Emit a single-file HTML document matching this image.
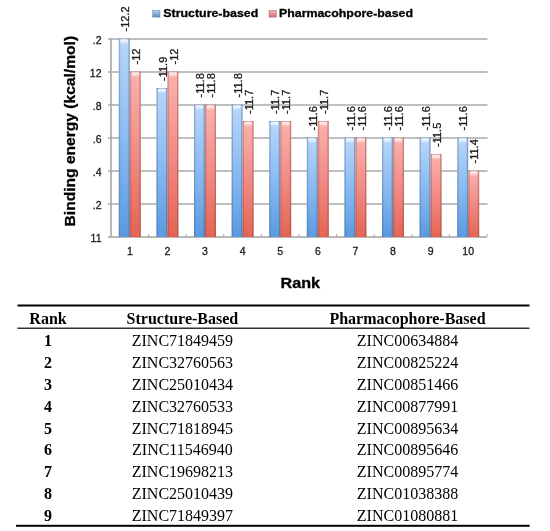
<!DOCTYPE html>
<html><head><meta charset="utf-8">
<style>
html,body{margin:0;padding:0;background:#fff;}
body{width:550px;height:531px;overflow:hidden;position:relative;}
svg{position:absolute;left:0;top:0;filter:blur(0.3px);}
</style></head><body>
<svg width="550" height="531" viewBox="0 0 550 531">
<defs>
<linearGradient id="gb" x1="0" y1="0" x2="0" y2="1">
<stop offset="0" stop-color="#b8d7fb"/><stop offset="0.5" stop-color="#8abbf1"/><stop offset="1" stop-color="#5a9ae0"/>
</linearGradient>
<linearGradient id="gr" x1="0" y1="0" x2="0" y2="1">
<stop offset="0" stop-color="#fcb2ad"/><stop offset="0.5" stop-color="#f28b85"/><stop offset="1" stop-color="#e46452"/>
</linearGradient>
<linearGradient id="hl" x1="0" y1="0" x2="0" y2="1">
<stop offset="0" stop-color="#fff" stop-opacity="0.8"/><stop offset="0.55" stop-color="#fff" stop-opacity="0.55"/><stop offset="1" stop-color="#fff" stop-opacity="0"/>
</linearGradient>
<linearGradient id="lb" x1="0" y1="0" x2="0" y2="1"><stop offset="0" stop-color="#b4d4f4"/><stop offset="1" stop-color="#5f88bd"/></linearGradient>
<linearGradient id="lr" x1="0" y1="0" x2="0" y2="1"><stop offset="0" stop-color="#f8bcbc"/><stop offset="1" stop-color="#cf6e74"/></linearGradient>
</defs>
<g font-family="Liberation Sans, sans-serif">

<rect x="108" y="38.20" width="379.5" height="1.6" fill="#b0b0b0"/>
<rect x="108" y="71.20" width="379.5" height="1.6" fill="#b0b0b0"/>
<rect x="108" y="104.20" width="379.5" height="1.6" fill="#b0b0b0"/>
<rect x="108" y="137.20" width="379.5" height="1.6" fill="#b0b0b0"/>
<rect x="108" y="170.20" width="379.5" height="1.6" fill="#b0b0b0"/>
<rect x="108" y="203.20" width="379.5" height="1.6" fill="#b0b0b0"/>
<rect x="108" y="236.20" width="379" height="1.6" fill="#a8a8a8"/>
<rect x="110.2" y="38.20" width="1.6" height="199.60" fill="#a8a8a8"/>
<rect x="148.10" y="234.00" width="1" height="3" fill="#a8a8a8"/>
<rect x="185.70" y="234.00" width="1" height="3" fill="#a8a8a8"/>
<rect x="223.30" y="234.00" width="1" height="3" fill="#a8a8a8"/>
<rect x="260.90" y="234.00" width="1" height="3" fill="#a8a8a8"/>
<rect x="298.50" y="234.00" width="1" height="3" fill="#a8a8a8"/>
<rect x="336.10" y="234.00" width="1" height="3" fill="#a8a8a8"/>
<rect x="373.70" y="234.00" width="1" height="3" fill="#a8a8a8"/>
<rect x="411.30" y="234.00" width="1" height="3" fill="#a8a8a8"/>
<rect x="448.90" y="234.00" width="1" height="3" fill="#a8a8a8"/>
<rect x="486.50" y="234.00" width="1" height="3" fill="#a8a8a8"/>
<rect x="118.80" y="38.50" width="11.0" height="198.50" fill="url(#gb)"/>
<rect x="118.80" y="38.50" width="1.4" height="198.50" fill="#46526a" fill-opacity="0.3"/>
<rect x="128.40" y="38.50" width="1.4" height="198.50" fill="#46526a" fill-opacity="0.38"/>
<rect x="120.40" y="39.10" width="7.80" height="5" rx="1.5" fill="url(#hl)"/>
<rect x="118.80" y="38.50" width="11.0" height="1" fill="#46526a" fill-opacity="0.25"/>
<text transform="translate(129.00,31.50) rotate(-90)" font-size="11" fill="#1a1a1a" stroke="#1a1a1a" stroke-width="0.3">-12.2</text>
<rect x="129.80" y="71.50" width="11.0" height="165.50" fill="url(#gr)"/>
<rect x="129.80" y="71.50" width="1.4" height="165.50" fill="#704646" fill-opacity="0.3"/>
<rect x="139.40" y="71.50" width="1.4" height="165.50" fill="#704646" fill-opacity="0.38"/>
<rect x="131.40" y="72.10" width="7.80" height="5" rx="1.5" fill="url(#hl)"/>
<rect x="129.80" y="71.50" width="11.0" height="1" fill="#704646" fill-opacity="0.25"/>
<text transform="translate(140.00,64.50) rotate(-90)" font-size="11" fill="#1a1a1a" stroke="#1a1a1a" stroke-width="0.3">-12</text>
<rect x="156.40" y="88.00" width="11.0" height="149.00" fill="url(#gb)"/>
<rect x="156.40" y="88.00" width="1.4" height="149.00" fill="#46526a" fill-opacity="0.3"/>
<rect x="166.00" y="88.00" width="1.4" height="149.00" fill="#46526a" fill-opacity="0.38"/>
<rect x="158.00" y="88.60" width="7.80" height="5" rx="1.5" fill="url(#hl)"/>
<rect x="156.40" y="88.00" width="11.0" height="1" fill="#46526a" fill-opacity="0.25"/>
<text transform="translate(166.60,81.00) rotate(-90)" font-size="11" fill="#1a1a1a" stroke="#1a1a1a" stroke-width="0.3">-11.9</text>
<rect x="167.40" y="71.50" width="11.0" height="165.50" fill="url(#gr)"/>
<rect x="167.40" y="71.50" width="1.4" height="165.50" fill="#704646" fill-opacity="0.3"/>
<rect x="177.00" y="71.50" width="1.4" height="165.50" fill="#704646" fill-opacity="0.38"/>
<rect x="169.00" y="72.10" width="7.80" height="5" rx="1.5" fill="url(#hl)"/>
<rect x="167.40" y="71.50" width="11.0" height="1" fill="#704646" fill-opacity="0.25"/>
<text transform="translate(177.60,64.50) rotate(-90)" font-size="11" fill="#1a1a1a" stroke="#1a1a1a" stroke-width="0.3">-12</text>
<rect x="194.00" y="104.50" width="11.0" height="132.50" fill="url(#gb)"/>
<rect x="194.00" y="104.50" width="1.4" height="132.50" fill="#46526a" fill-opacity="0.3"/>
<rect x="203.60" y="104.50" width="1.4" height="132.50" fill="#46526a" fill-opacity="0.38"/>
<rect x="195.60" y="105.10" width="7.80" height="5" rx="1.5" fill="url(#hl)"/>
<rect x="194.00" y="104.50" width="11.0" height="1" fill="#46526a" fill-opacity="0.25"/>
<text transform="translate(204.20,97.50) rotate(-90)" font-size="11" fill="#1a1a1a" stroke="#1a1a1a" stroke-width="0.3">-11.8</text>
<rect x="205.00" y="104.50" width="11.0" height="132.50" fill="url(#gr)"/>
<rect x="205.00" y="104.50" width="1.4" height="132.50" fill="#704646" fill-opacity="0.3"/>
<rect x="214.60" y="104.50" width="1.4" height="132.50" fill="#704646" fill-opacity="0.38"/>
<rect x="206.60" y="105.10" width="7.80" height="5" rx="1.5" fill="url(#hl)"/>
<rect x="205.00" y="104.50" width="11.0" height="1" fill="#704646" fill-opacity="0.25"/>
<text transform="translate(215.20,97.50) rotate(-90)" font-size="11" fill="#1a1a1a" stroke="#1a1a1a" stroke-width="0.3">-11.8</text>
<rect x="231.60" y="104.50" width="11.0" height="132.50" fill="url(#gb)"/>
<rect x="231.60" y="104.50" width="1.4" height="132.50" fill="#46526a" fill-opacity="0.3"/>
<rect x="241.20" y="104.50" width="1.4" height="132.50" fill="#46526a" fill-opacity="0.38"/>
<rect x="233.20" y="105.10" width="7.80" height="5" rx="1.5" fill="url(#hl)"/>
<rect x="231.60" y="104.50" width="11.0" height="1" fill="#46526a" fill-opacity="0.25"/>
<text transform="translate(241.80,97.50) rotate(-90)" font-size="11" fill="#1a1a1a" stroke="#1a1a1a" stroke-width="0.3">-11.8</text>
<rect x="242.60" y="121.00" width="11.0" height="116.00" fill="url(#gr)"/>
<rect x="242.60" y="121.00" width="1.4" height="116.00" fill="#704646" fill-opacity="0.3"/>
<rect x="252.20" y="121.00" width="1.4" height="116.00" fill="#704646" fill-opacity="0.38"/>
<rect x="244.20" y="121.60" width="7.80" height="5" rx="1.5" fill="url(#hl)"/>
<rect x="242.60" y="121.00" width="11.0" height="1" fill="#704646" fill-opacity="0.25"/>
<text transform="translate(252.80,114.00) rotate(-90)" font-size="11" fill="#1a1a1a" stroke="#1a1a1a" stroke-width="0.3">-11.7</text>
<rect x="269.20" y="121.00" width="11.0" height="116.00" fill="url(#gb)"/>
<rect x="269.20" y="121.00" width="1.4" height="116.00" fill="#46526a" fill-opacity="0.3"/>
<rect x="278.80" y="121.00" width="1.4" height="116.00" fill="#46526a" fill-opacity="0.38"/>
<rect x="270.80" y="121.60" width="7.80" height="5" rx="1.5" fill="url(#hl)"/>
<rect x="269.20" y="121.00" width="11.0" height="1" fill="#46526a" fill-opacity="0.25"/>
<text transform="translate(279.40,114.00) rotate(-90)" font-size="11" fill="#1a1a1a" stroke="#1a1a1a" stroke-width="0.3">-11.7</text>
<rect x="280.20" y="121.00" width="11.0" height="116.00" fill="url(#gr)"/>
<rect x="280.20" y="121.00" width="1.4" height="116.00" fill="#704646" fill-opacity="0.3"/>
<rect x="289.80" y="121.00" width="1.4" height="116.00" fill="#704646" fill-opacity="0.38"/>
<rect x="281.80" y="121.60" width="7.80" height="5" rx="1.5" fill="url(#hl)"/>
<rect x="280.20" y="121.00" width="11.0" height="1" fill="#704646" fill-opacity="0.25"/>
<text transform="translate(290.40,114.00) rotate(-90)" font-size="11" fill="#1a1a1a" stroke="#1a1a1a" stroke-width="0.3">-11.7</text>
<rect x="306.80" y="137.50" width="11.0" height="99.50" fill="url(#gb)"/>
<rect x="306.80" y="137.50" width="1.4" height="99.50" fill="#46526a" fill-opacity="0.3"/>
<rect x="316.40" y="137.50" width="1.4" height="99.50" fill="#46526a" fill-opacity="0.38"/>
<rect x="308.40" y="138.10" width="7.80" height="5" rx="1.5" fill="url(#hl)"/>
<rect x="306.80" y="137.50" width="11.0" height="1" fill="#46526a" fill-opacity="0.25"/>
<text transform="translate(317.00,130.50) rotate(-90)" font-size="11" fill="#1a1a1a" stroke="#1a1a1a" stroke-width="0.3">-11.6</text>
<rect x="317.80" y="121.00" width="11.0" height="116.00" fill="url(#gr)"/>
<rect x="317.80" y="121.00" width="1.4" height="116.00" fill="#704646" fill-opacity="0.3"/>
<rect x="327.40" y="121.00" width="1.4" height="116.00" fill="#704646" fill-opacity="0.38"/>
<rect x="319.40" y="121.60" width="7.80" height="5" rx="1.5" fill="url(#hl)"/>
<rect x="317.80" y="121.00" width="11.0" height="1" fill="#704646" fill-opacity="0.25"/>
<text transform="translate(328.00,114.00) rotate(-90)" font-size="11" fill="#1a1a1a" stroke="#1a1a1a" stroke-width="0.3">-11.7</text>
<rect x="344.40" y="137.50" width="11.0" height="99.50" fill="url(#gb)"/>
<rect x="344.40" y="137.50" width="1.4" height="99.50" fill="#46526a" fill-opacity="0.3"/>
<rect x="354.00" y="137.50" width="1.4" height="99.50" fill="#46526a" fill-opacity="0.38"/>
<rect x="346.00" y="138.10" width="7.80" height="5" rx="1.5" fill="url(#hl)"/>
<rect x="344.40" y="137.50" width="11.0" height="1" fill="#46526a" fill-opacity="0.25"/>
<text transform="translate(354.60,130.50) rotate(-90)" font-size="11" fill="#1a1a1a" stroke="#1a1a1a" stroke-width="0.3">-11.6</text>
<rect x="355.40" y="137.50" width="11.0" height="99.50" fill="url(#gr)"/>
<rect x="355.40" y="137.50" width="1.4" height="99.50" fill="#704646" fill-opacity="0.3"/>
<rect x="365.00" y="137.50" width="1.4" height="99.50" fill="#704646" fill-opacity="0.38"/>
<rect x="357.00" y="138.10" width="7.80" height="5" rx="1.5" fill="url(#hl)"/>
<rect x="355.40" y="137.50" width="11.0" height="1" fill="#704646" fill-opacity="0.25"/>
<text transform="translate(365.60,130.50) rotate(-90)" font-size="11" fill="#1a1a1a" stroke="#1a1a1a" stroke-width="0.3">-11.6</text>
<rect x="382.00" y="137.50" width="11.0" height="99.50" fill="url(#gb)"/>
<rect x="382.00" y="137.50" width="1.4" height="99.50" fill="#46526a" fill-opacity="0.3"/>
<rect x="391.60" y="137.50" width="1.4" height="99.50" fill="#46526a" fill-opacity="0.38"/>
<rect x="383.60" y="138.10" width="7.80" height="5" rx="1.5" fill="url(#hl)"/>
<rect x="382.00" y="137.50" width="11.0" height="1" fill="#46526a" fill-opacity="0.25"/>
<text transform="translate(392.20,130.50) rotate(-90)" font-size="11" fill="#1a1a1a" stroke="#1a1a1a" stroke-width="0.3">-11.6</text>
<rect x="393.00" y="137.50" width="11.0" height="99.50" fill="url(#gr)"/>
<rect x="393.00" y="137.50" width="1.4" height="99.50" fill="#704646" fill-opacity="0.3"/>
<rect x="402.60" y="137.50" width="1.4" height="99.50" fill="#704646" fill-opacity="0.38"/>
<rect x="394.60" y="138.10" width="7.80" height="5" rx="1.5" fill="url(#hl)"/>
<rect x="393.00" y="137.50" width="11.0" height="1" fill="#704646" fill-opacity="0.25"/>
<text transform="translate(403.20,130.50) rotate(-90)" font-size="11" fill="#1a1a1a" stroke="#1a1a1a" stroke-width="0.3">-11.6</text>
<rect x="419.60" y="137.50" width="11.0" height="99.50" fill="url(#gb)"/>
<rect x="419.60" y="137.50" width="1.4" height="99.50" fill="#46526a" fill-opacity="0.3"/>
<rect x="429.20" y="137.50" width="1.4" height="99.50" fill="#46526a" fill-opacity="0.38"/>
<rect x="421.20" y="138.10" width="7.80" height="5" rx="1.5" fill="url(#hl)"/>
<rect x="419.60" y="137.50" width="11.0" height="1" fill="#46526a" fill-opacity="0.25"/>
<text transform="translate(429.80,130.50) rotate(-90)" font-size="11" fill="#1a1a1a" stroke="#1a1a1a" stroke-width="0.3">-11.6</text>
<rect x="430.60" y="154.00" width="11.0" height="83.00" fill="url(#gr)"/>
<rect x="430.60" y="154.00" width="1.4" height="83.00" fill="#704646" fill-opacity="0.3"/>
<rect x="440.20" y="154.00" width="1.4" height="83.00" fill="#704646" fill-opacity="0.38"/>
<rect x="432.20" y="154.60" width="7.80" height="5" rx="1.5" fill="url(#hl)"/>
<rect x="430.60" y="154.00" width="11.0" height="1" fill="#704646" fill-opacity="0.25"/>
<text transform="translate(440.80,147.00) rotate(-90)" font-size="11" fill="#1a1a1a" stroke="#1a1a1a" stroke-width="0.3">-11.5</text>
<rect x="457.20" y="137.50" width="11.0" height="99.50" fill="url(#gb)"/>
<rect x="457.20" y="137.50" width="1.4" height="99.50" fill="#46526a" fill-opacity="0.3"/>
<rect x="466.80" y="137.50" width="1.4" height="99.50" fill="#46526a" fill-opacity="0.38"/>
<rect x="458.80" y="138.10" width="7.80" height="5" rx="1.5" fill="url(#hl)"/>
<rect x="457.20" y="137.50" width="11.0" height="1" fill="#46526a" fill-opacity="0.25"/>
<text transform="translate(467.40,130.50) rotate(-90)" font-size="11" fill="#1a1a1a" stroke="#1a1a1a" stroke-width="0.3">-11.6</text>
<rect x="468.20" y="170.50" width="11.0" height="66.50" fill="url(#gr)"/>
<rect x="468.20" y="170.50" width="1.4" height="66.50" fill="#704646" fill-opacity="0.3"/>
<rect x="477.80" y="170.50" width="1.4" height="66.50" fill="#704646" fill-opacity="0.38"/>
<rect x="469.80" y="171.10" width="7.80" height="5" rx="1.5" fill="url(#hl)"/>
<rect x="468.20" y="170.50" width="11.0" height="1" fill="#704646" fill-opacity="0.25"/>
<text transform="translate(478.40,163.50) rotate(-90)" font-size="11" fill="#1a1a1a" stroke="#1a1a1a" stroke-width="0.3">-11.4</text>
<text x="101.5" y="43.50" font-size="10.5" text-anchor="end" fill="#1a1a1a" stroke="#1a1a1a" stroke-width="0.3">.2</text>
<text x="101.5" y="76.50" font-size="10.5" text-anchor="end" fill="#1a1a1a" stroke="#1a1a1a" stroke-width="0.3">12</text>
<text x="101.5" y="109.50" font-size="10.5" text-anchor="end" fill="#1a1a1a" stroke="#1a1a1a" stroke-width="0.3">.8</text>
<text x="101.5" y="142.50" font-size="10.5" text-anchor="end" fill="#1a1a1a" stroke="#1a1a1a" stroke-width="0.3">.6</text>
<text x="101.5" y="175.50" font-size="10.5" text-anchor="end" fill="#1a1a1a" stroke="#1a1a1a" stroke-width="0.3">.4</text>
<text x="101.5" y="208.50" font-size="10.5" text-anchor="end" fill="#1a1a1a" stroke="#1a1a1a" stroke-width="0.3">.2</text>
<text x="101.5" y="241.50" font-size="10.5" text-anchor="end" fill="#1a1a1a" stroke="#1a1a1a" stroke-width="0.3">11</text>
<text x="129.80" y="255" font-size="10.5" text-anchor="middle" fill="#1a1a1a" stroke="#1a1a1a" stroke-width="0.3">1</text>
<text x="167.40" y="255" font-size="10.5" text-anchor="middle" fill="#1a1a1a" stroke="#1a1a1a" stroke-width="0.3">2</text>
<text x="205.00" y="255" font-size="10.5" text-anchor="middle" fill="#1a1a1a" stroke="#1a1a1a" stroke-width="0.3">3</text>
<text x="242.60" y="255" font-size="10.5" text-anchor="middle" fill="#1a1a1a" stroke="#1a1a1a" stroke-width="0.3">4</text>
<text x="280.20" y="255" font-size="10.5" text-anchor="middle" fill="#1a1a1a" stroke="#1a1a1a" stroke-width="0.3">5</text>
<text x="317.80" y="255" font-size="10.5" text-anchor="middle" fill="#1a1a1a" stroke="#1a1a1a" stroke-width="0.3">6</text>
<text x="355.40" y="255" font-size="10.5" text-anchor="middle" fill="#1a1a1a" stroke="#1a1a1a" stroke-width="0.3">7</text>
<text x="393.00" y="255" font-size="10.5" text-anchor="middle" fill="#1a1a1a" stroke="#1a1a1a" stroke-width="0.3">8</text>
<text x="430.60" y="255" font-size="10.5" text-anchor="middle" fill="#1a1a1a" stroke="#1a1a1a" stroke-width="0.3">9</text>
<text x="468.20" y="255" font-size="10.5" text-anchor="middle" fill="#1a1a1a" stroke="#1a1a1a" stroke-width="0.3">10</text>
<text x="280.5" y="288" font-size="14" font-weight="bold" fill="#000" stroke="#000" stroke-width="0.3" textLength="39.5" lengthAdjust="spacingAndGlyphs">Rank</text>
<text transform="translate(74.9,226.4) rotate(-90)" font-size="14" font-weight="bold" fill="#000" stroke="#000" stroke-width="0.3" textLength="190.5" lengthAdjust="spacingAndGlyphs">Binding energy (kcal/mol)</text>
<rect x="152.7" y="10.3" width="7.3" height="6.8" fill="url(#lb)" stroke="#6680a4" stroke-width="0.5"/>
<text x="163.3" y="17.2" font-size="11" font-weight="bold" fill="#000" stroke="#000" stroke-width="0.3" textLength="95" lengthAdjust="spacingAndGlyphs">Structure-based</text>
<rect x="269" y="10.3" width="7.3" height="6.8" fill="url(#lr)" stroke="#a06870" stroke-width="0.5"/>
<text x="279" y="17.2" font-size="11" font-weight="bold" fill="#000" stroke="#000" stroke-width="0.3" textLength="134" lengthAdjust="spacingAndGlyphs">Pharmacohpore-based</text>
</g>
<g font-family="Liberation Serif, serif" fill="#000">
<rect x="17.5" y="304.5" width="512" height="2" fill="#000"/>
<rect x="17.5" y="327.6" width="512" height="1.2" fill="#000"/>
<rect x="16" y="524.8" width="513.6" height="2" fill="#000"/>
<text transform="translate(48.00,323.60) scale(1.0,1)" font-size="16" font-weight="bold" text-anchor="middle">Rank</text>
<text transform="translate(182.40,323.60) scale(1.0,1)" font-size="16" font-weight="bold" text-anchor="middle">Structure-Based</text>
<text transform="translate(407.50,323.60) scale(1.0,1)" font-size="16" font-weight="bold" text-anchor="middle">Pharmacophore-Based</text>
<text transform="translate(48.00,346.00) scale(1.0,1)" font-size="16" font-weight="bold" text-anchor="middle">1</text>
<text transform="translate(182.40,346.00) scale(1.0,1)" font-size="16" text-anchor="middle">ZINC71849459</text>
<text transform="translate(407.50,346.00) scale(1.0,1)" font-size="16" text-anchor="middle">ZINC00634884</text>
<text transform="translate(48.00,367.88) scale(1.0,1)" font-size="16" font-weight="bold" text-anchor="middle">2</text>
<text transform="translate(182.40,367.88) scale(1.0,1)" font-size="16" text-anchor="middle">ZINC32760563</text>
<text transform="translate(407.50,367.88) scale(1.0,1)" font-size="16" text-anchor="middle">ZINC00825224</text>
<text transform="translate(48.00,389.75) scale(1.0,1)" font-size="16" font-weight="bold" text-anchor="middle">3</text>
<text transform="translate(182.40,389.75) scale(1.0,1)" font-size="16" text-anchor="middle">ZINC25010434</text>
<text transform="translate(407.50,389.75) scale(1.0,1)" font-size="16" text-anchor="middle">ZINC00851466</text>
<text transform="translate(48.00,411.62) scale(1.0,1)" font-size="16" font-weight="bold" text-anchor="middle">4</text>
<text transform="translate(182.40,411.62) scale(1.0,1)" font-size="16" text-anchor="middle">ZINC32760533</text>
<text transform="translate(407.50,411.62) scale(1.0,1)" font-size="16" text-anchor="middle">ZINC00877991</text>
<text transform="translate(48.00,433.50) scale(1.0,1)" font-size="16" font-weight="bold" text-anchor="middle">5</text>
<text transform="translate(182.40,433.50) scale(1.0,1)" font-size="16" text-anchor="middle">ZINC71818945</text>
<text transform="translate(407.50,433.50) scale(1.0,1)" font-size="16" text-anchor="middle">ZINC00895634</text>
<text transform="translate(48.00,455.38) scale(1.0,1)" font-size="16" font-weight="bold" text-anchor="middle">6</text>
<text transform="translate(182.40,455.38) scale(1.0,1)" font-size="16" text-anchor="middle">ZINC11546940</text>
<text transform="translate(407.50,455.38) scale(1.0,1)" font-size="16" text-anchor="middle">ZINC00895646</text>
<text transform="translate(48.00,477.25) scale(1.0,1)" font-size="16" font-weight="bold" text-anchor="middle">7</text>
<text transform="translate(182.40,477.25) scale(1.0,1)" font-size="16" text-anchor="middle">ZINC19698213</text>
<text transform="translate(407.50,477.25) scale(1.0,1)" font-size="16" text-anchor="middle">ZINC00895774</text>
<text transform="translate(48.00,499.12) scale(1.0,1)" font-size="16" font-weight="bold" text-anchor="middle">8</text>
<text transform="translate(182.40,499.12) scale(1.0,1)" font-size="16" text-anchor="middle">ZINC25010439</text>
<text transform="translate(407.50,499.12) scale(1.0,1)" font-size="16" text-anchor="middle">ZINC01038388</text>
<text transform="translate(48.00,521.00) scale(1.0,1)" font-size="16" font-weight="bold" text-anchor="middle">9</text>
<text transform="translate(182.40,521.00) scale(1.0,1)" font-size="16" text-anchor="middle">ZINC71849397</text>
<text transform="translate(407.50,521.00) scale(1.0,1)" font-size="16" text-anchor="middle">ZINC01080881</text>
</g>
</svg>
</body></html>
